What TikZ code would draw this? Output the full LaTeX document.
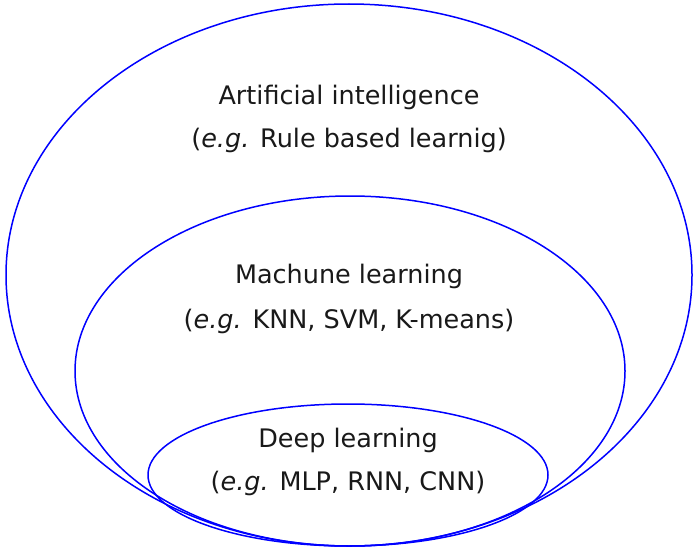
\documentclass[tikz,border=0pt]{standalone}
\usepackage{fontspec}
\setmainfont{DejaVu Sans}
\usepackage{tikz}
\usetikzlibrary{positioning}

\begin{document}
\begin{tikzpicture}[
    x=1pt, y=-1pt,
    setring/.style={draw=blue, line width=1.5pt},
    setlabel/.style={align=center, font=\fontsize{25.5}{43}\selectfont, text=black!90}
]
\useasboundingbox (0,0) rectangle (698,551);
% nested sets, all touching at the bottom
\draw[setring] (349,275) ellipse [x radius=343, y radius=271];
\draw[setring] (350,371) ellipse [x radius=275, y radius=175];
\draw[setring] (348,475) ellipse [x radius=200, y radius=71];
% labels
\node[setlabel] (ai) at (349,119) {Artificial intelligence\\(\textit{e.g.} Rule based learnig)};
\node[setlabel] (ml) at (349,299) {Machune learning\\[2pt](\textit{e.g.} KNN, SVM, K-means)};
\node[setlabel] (dl) at (348,462) {Deep learning\\(\textit{e.g.} MLP, RNN, CNN)};
\end{tikzpicture}
\end{document}
